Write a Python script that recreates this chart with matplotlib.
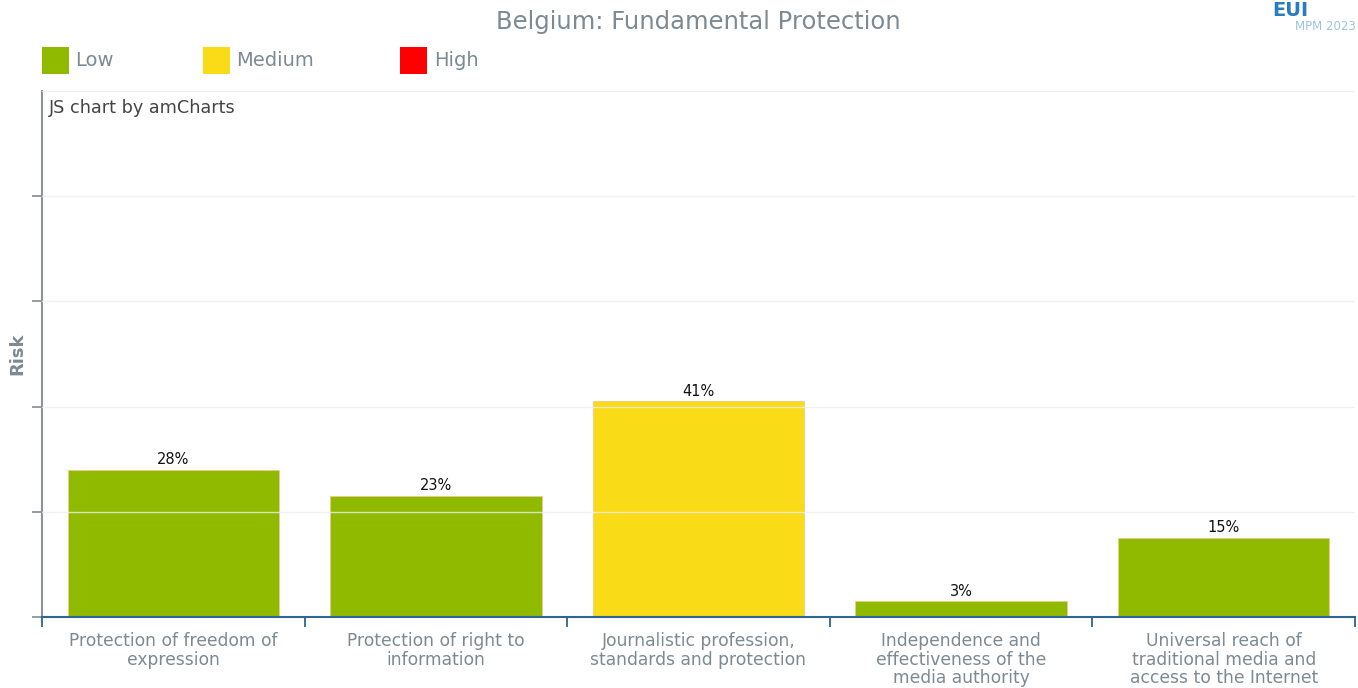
import matplotlib
matplotlib.use("Agg")
import matplotlib.pyplot as plt
from matplotlib.patches import Rectangle

categories = ["Protection of freedom of\nexpression",
              "Protection of right to\ninformation",
              "Journalistic profession,\nstandards and protection",
              "Independence and\neffectiveness of the\nmedia authority",
              "Universal reach of\ntraditional media and\naccess to the Internet"]
values = [28, 23, 41, 3, 15]
risk = ["Low", "Low", "Medium", "Low", "Low"]
legend_labels = ["Low", "Medium", "High"]
colors = {"Low": "#8fba00", "Medium": "#fadb17", "High": "#fe0000"}

W, H = 1358, 688
fig = plt.figure(figsize=(W / 100, H / 100), dpi=100)
ax = fig.add_axes([42 / W, 1 - 617 / H, (1355 - 42) / W, (617 - 91) / H])

grey = "#7d8a93"
x = list(range(len(values)))
bars = ax.bar(x, values, width=0.805, color=[colors[r] for r in risk],
              edgecolor="#f2c98a", linewidth=0.6, zorder=2)
for xi, v in zip(x, values):
    ax.text(xi, v + 0.5, f"{v}%", ha="center", va="bottom", fontsize=10.5,
            color="#111111", zorder=4)

ax.set_xlim(-0.5, len(values) - 0.5)
ax.set_ylim(0, 100)
for g in [20, 40, 60, 80, 100]:
    ax.axhline(g, color="#eeeeee", lw=1, alpha=0.8, zorder=3)

ax.set_xticks([i - 0.5 for i in range(len(values) + 1)], minor=False)
ax.set_xticklabels([])
ax.set_xticks(x, minor=True)
ax.set_xticklabels(categories, minor=True, fontsize=12.3, color=grey,
                   linespacing=1.03)
ax.tick_params(axis="x", which="major", length=7, direction="out",
               color="#2c6694", width=1.3)
ax.tick_params(axis="x", which="minor", length=0, pad=11)
ax.set_yticks([0, 20, 40, 60, 80])
ax.set_yticklabels([])
ax.tick_params(axis="y", length=7, color="#8c9499", width=1.3)

for s in ["top", "right"]:
    ax.spines[s].set_visible(False)
ax.spines["left"].set_color("#8c9499")
ax.spines["left"].set_linewidth(1.5)
ax.spines["bottom"].set_color("#2c6694")
ax.spines["bottom"].set_linewidth(1.5)
ax.spines["bottom"].set_zorder(5)

fig.text(17 / W, 1 - 354 / H, "Risk", fontsize=13, color=grey,
         fontweight="bold", rotation=90, ha="center", va="center")

ax.text(0.005, 0.985, "JS chart by amCharts", transform=ax.transAxes,
        fontsize=12.7, color="#444444", va="top", ha="left")

fig.text(698 / W, 1 - 22 / H, "Belgium: Fundamental Protection",
         ha="center", va="center", fontsize=17.5, color=grey)

# legend
leg_pos = [(42, 75), (203, 236), (400, 434)]
for lab, (sx, tx) in zip(legend_labels, leg_pos):
    fig.patches.append(Rectangle((sx / W, 1 - 74 / H), 27 / W, 27 / H,
                                 transform=fig.transFigure,
                                 facecolor=colors[lab], edgecolor="none"))
    fig.text(tx / W, 1 - 61 / H, lab, fontsize=14, color=grey,
             ha="left", va="center")

# logo
fig.text(1272 / W, 1 - 1 / H, "EUI", fontsize=14, fontweight="bold",
         color="#2a7bc0", ha="left", va="top")
fig.text(1295 / W, 1 - 26 / H, "MPM 2023", fontsize=8.5, color="#9cc3e6",
         ha="left", va="center")

fig.savefig("out.png", dpi=100)
